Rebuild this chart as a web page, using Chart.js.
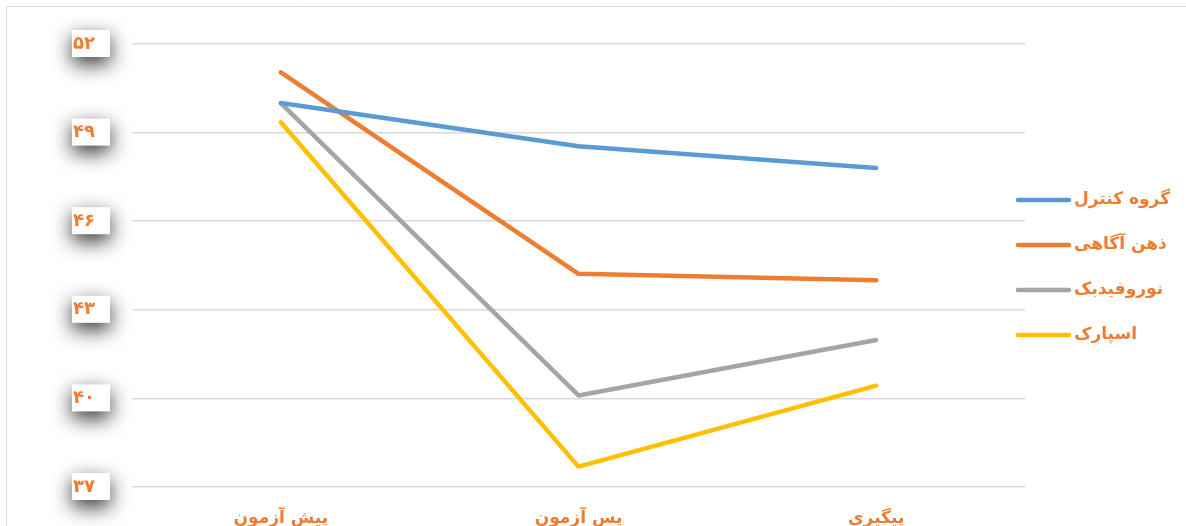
<!DOCTYPE html>
<html>
<head>
<meta charset="utf-8">
<script src="https://cdn.jsdelivr.net/npm/chart.js@4"></script>
<style>
  html, body { margin: 0; padding: 0; background: #fff; overflow: hidden; }
  #wrap { width: 1186px; height: 526px; }
</style>
</head>
<body>
<div id="wrap"><canvas id="meuGrafico" width="1186" height="526"></canvas></div>
<script>
const categorias = ['پیش آزمون', 'پس آزمون', 'پیگیری'];
const grupoControle = [50.0, 48.54, 47.8];
const mindfulness = [51.04, 44.22, 44.0];
const neurofeedback = [50.0, 40.1, 41.98];
const spark = [49.35, 37.69, 40.43];
const nomesSeries = ['گروه کنترل', 'ذهن آگاهی', 'نوروفیدبک', 'اسپارک'];
const yTickLabels = ['۳۷', '۴۰', '۴۳', '۴۶', '۴۹', '۵۲'];

const laranja = '#ED7D31';
const fonte = 'DejaVu Sans';
const cores = ['#5B9BD5', '#ED7D31', '#A5A5A5', '#FFC000'];
const series = [grupoControle, mindfulness, neurofeedback, spark];

// moldura, caixas com sombra dos ticks e legenda
const extras = {
    id: 'extras',
    beforeDraw(chart) {
        const ctx = chart.ctx;
        ctx.save();
        ctx.strokeStyle = '#D9D9D9';
        ctx.lineWidth = 1;
        ctx.beginPath();
        ctx.moveTo(6.5, 526); ctx.lineTo(6.5, 6.5); ctx.lineTo(1186, 6.5);
        ctx.stroke();
        const y = chart.scales.y;
        y.ticks.forEach(t => {
            const py = y.getPixelForValue(t.value);
            ctx.shadowColor = 'rgba(0,0,0,0.8)';
            ctx.shadowBlur = 20;
            ctx.shadowOffsetY = 7;
            ctx.fillStyle = '#fff';
            ctx.fillRect(72, py - 14, 38, 27);
        });
        ctx.restore();
    },
    afterDraw(chart) {
        const ctx = chart.ctx;
        ctx.save();
        chart.data.datasets.forEach((ds, i) => {
            const ly = 200 + i * 45;
            ctx.strokeStyle = ds.borderColor;
            ctx.lineWidth = 4.5;
            ctx.lineCap = 'round';
            ctx.beginPath();
            ctx.moveTo(1018, ly); ctx.lineTo(1069, ly);
            ctx.stroke();
            ctx.fillStyle = laranja;
            ctx.font = 'bold 17px "' + fonte + '"';
            ctx.textAlign = 'left';
            ctx.textBaseline = 'middle';
            ctx.fillText(ds.label, 1074, ly);
        });
        ctx.restore();
    }
};

const ctx = document.getElementById('meuGrafico').getContext('2d');
window.chart = new Chart(ctx, {
    type: 'line',
    data: {
        labels: categorias,
        datasets: series.map((s, i) => ({
            label: nomesSeries[i], data: s, borderColor: cores[i], backgroundColor: cores[i],
            borderWidth: 4.5, pointRadius: 0, tension: 0, borderCapStyle: 'round', borderJoinStyle: 'round', fill: false
        }))
    },
    options: {
        responsive: false, animation: false, devicePixelRatio: 1,
        layout: { padding: { left: 73, right: 161, top: 44, bottom: 0 } },
        plugins: { legend: { display: false }, tooltip: { enabled: false } },
        scales: {
            x: {
                offset: true,
                grid: { display: false },
                border: { display: false },
                ticks: { color: laranja, font: { family: fonte, size: 17, weight: 'bold' }, padding: 13, maxRotation: 0 },
                afterFit(s) { s.height = 39; }
            },
            y: {
                min: 37, max: 52,
                grid: { color: '#D9D9D9', lineWidth: 1.5, drawTicks: false },
                border: { display: false },
                ticks: { stepSize: 3, crossAlign: 'far', color: laranja, font: { family: fonte, size: 18, weight: 'bold' },
                    callback: (v, i) => yTickLabels[i] },
                afterFit(s) { s.width = 59; }
            }
        }
    },
    plugins: [extras]
});
</script>
</body>
</html>
